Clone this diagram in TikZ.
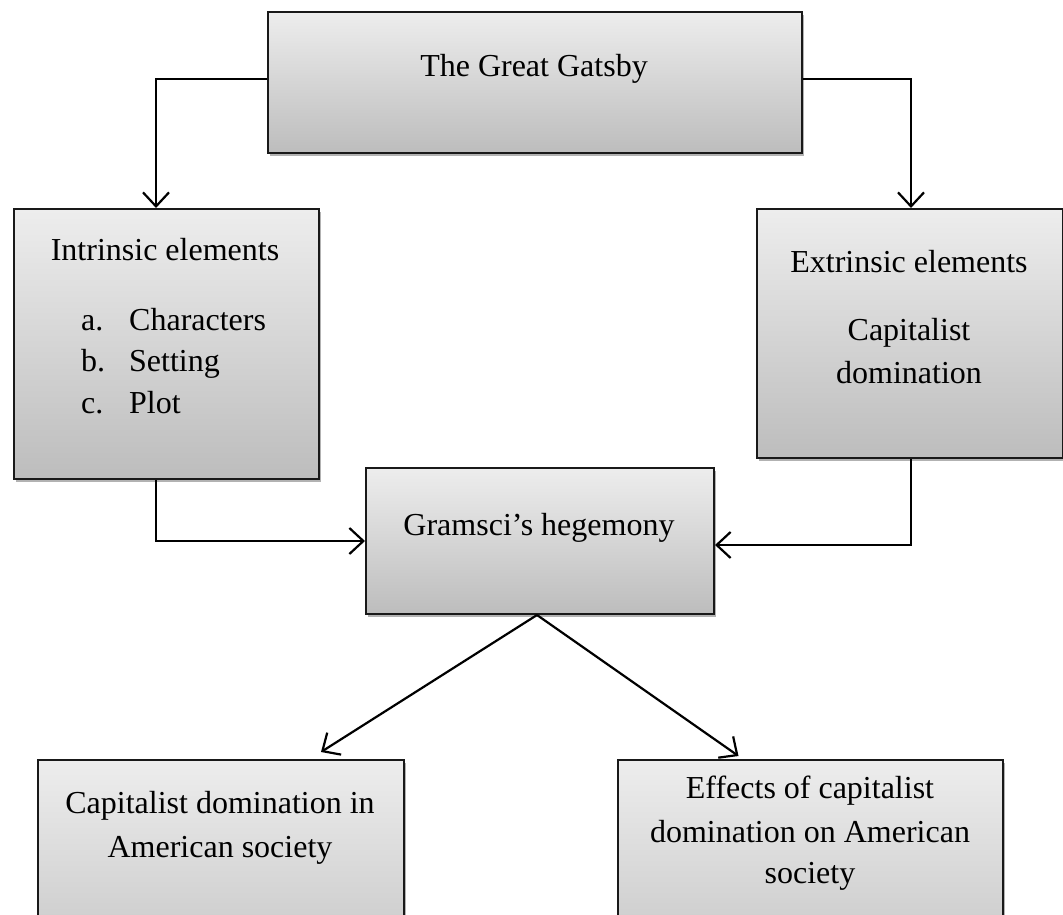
\documentclass[tikz,border=0pt]{standalone}
\usepackage{fontspec}
\setmainfont{Liberation Serif}
\usetikzlibrary{arrows.meta,shadows}
\begin{document}
\begin{tikzpicture}[x=1pt,y=-1pt,
  box/.style={rectangle, draw=black!90, line width=2pt, top color=gray!14, bottom color=gray!52,
    anchor=north west, inner sep=0pt,
    drop shadow={shadow xshift=2pt, shadow yshift=-3pt, opacity=0.3, fill=black}},
  txt/.style={anchor=base, inner sep=0pt, font=\fontsize{32}{40}\selectfont},
  txtl/.style={anchor=base west, inner sep=0pt, font=\fontsize{32}{40}\selectfont},
  arr/.style={line width=2.2pt, -{Straight Barb[length=14pt,width=26pt,line width=2.2pt]}}]
\useasboundingbox (0,0) rectangle (1063,915);
% boxes
\node[box, minimum width=534pt, minimum height=141pt] (gatsby) at (267,11) {};
\node[box, minimum width=305pt, minimum height=270pt] (intr) at (13,208) {};
\node[box, minimum width=306pt, minimum height=249pt] (extr) at (756,208) {};
\node[box, minimum width=348pt, minimum height=146pt] (gram) at (365,467) {};
\node[box, minimum width=366pt, minimum height=260pt] (capam) at (37,759) {};
\node[box, minimum width=385pt, minimum height=260pt] (eff) at (617,759) {};
% texts
\node[txt] (tg) at (534,77) {The Great Gatsby};
\node[txt] (ti) at (165,260) {Intrinsic elements};
\node[txtl] (tia) at (81,330) {a.};
\node[txtl] (tiaa) at (129,330) {Characters};
\node[txtl] (tib) at (81,371) {b.};
\node[txtl] (tibb) at (129,371) {Setting};
\node[txtl] (tic) at (81,413) {c.};
\node[txtl] (ticc) at (129,413) {Plot};
\node[txt] (te) at (909,272) {Extrinsic elements};
\node[txt] (te2) at (909,340) {Capitalist};
\node[txt] (te3) at (909,383) {domination};
\node[txt] (tgr) at (539,535) {Gramsci’s hegemony};
\node[txt] (tc1) at (220,813) {Capitalist domination in};
\node[txt] (tc2) at (220,857) {American society};
\node[txt] (tf1) at (810,798) {Effects of capitalist};
\node[txt] (tf2) at (810,842) {domination on American};
\node[txt] (tf3) at (810,883) {society};
% connectors
\draw[arr] ([yshift=3.5pt]gatsby.west) -| ([xshift=-10.5pt]intr.north);
\draw[arr] ([yshift=3.5pt]gatsby.east) -| ([xshift=1pt]extr.north);
\draw[arr] ([xshift=-10.5pt]intr.south) |- (gram.west);
\draw[arr] ([xshift=1pt]extr.south) |- ([yshift=-4pt]gram.east);
\draw[arr] ([xshift=-3pt]gram.south) -- ([xshift=100pt,yshift=7pt]capam.north);
\draw[arr] ([xshift=-3pt]gram.south) -- ([xshift=-72pt,yshift=3pt]eff.north);
\end{tikzpicture}
\end{document}
